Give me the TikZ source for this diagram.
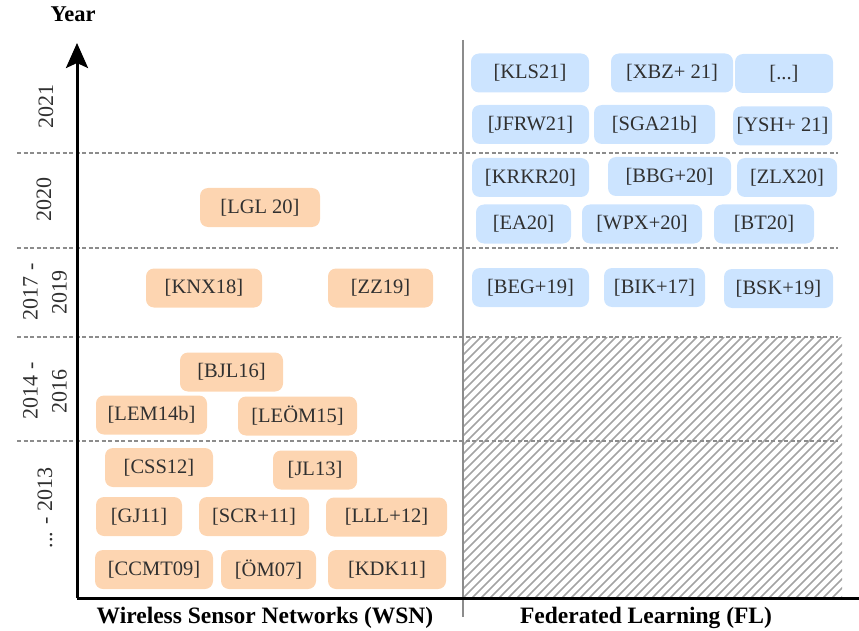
\documentclass[tikz,border=0pt]{standalone}
\usepackage{fontspec}
\setmainfont{Liberation Serif}
\usetikzlibrary{arrows.meta}
\definecolor{wsnfill}{HTML}{FDD5B1}
\definecolor{flfill}{HTML}{CCE4FF}
\definecolor{reftext}{HTML}{303030}
\definecolor{sepgray}{HTML}{8C8C8C}
\definecolor{hatchgray}{HTML}{A3A3A3}

\begin{document}
\begin{tikzpicture}[x=1pt,y=-1pt,
  refbox/.style={rounded corners=8pt, inner sep=0pt, minimum height=39pt,
    font=\fontsize{20.5}{24}\selectfont, text=reftext},
  wsn/.style={refbox, fill=wsnfill},
  fl/.style={refbox, fill=flfill},
  period/.style={dash pattern=on 4pt off 2.5pt, line width=1.8pt, sepgray},
  divider/.style={line width=2pt, sepgray},
  axis/.style={line width=3pt, black},
  hatch/.style={line width=1.7pt, hatchgray},
  yearlbl/.style={rotate=90, font=\fontsize{22}{29}\selectfont, align=center, text=reftext},
  axlbl/.style={font=\fontsize{23.5}{26}\selectfont\bfseries, text=black}]

% page frame
\useasboundingbox (0,0) rectangle (859,631);

% hatched area: no FL work before 2017
\begin{scope}
  \clip (463,337) rectangle (842,598);
  \foreach \i in {-270,-261,...,390}
    \draw[hatch] (463+\i,598) -- ++(261,-261);
\end{scope}

% period separators
\coordinate (p1l) at (17,153); \coordinate (p1r) at (838,153);
\coordinate (p2l) at (17,248); \coordinate (p2r) at (838,248);
\coordinate (p3l) at (17,337); \coordinate (p3r) at (838,337);
\coordinate (p4l) at (17,441); \coordinate (p4r) at (838,441);
\draw[period] (p1l) -- (p1r);
\draw[period] (p2l) -- (p2r);
\draw[period] (p3l) -- (p3r);
\draw[period] (p4l) -- (p4r);

% WSN / FL divider
\coordinate (divtop) at (463,40);
\coordinate (divbot) at (463,617);
\draw[divider] (divtop) -- (divbot);

% axes
\coordinate (origin) at (77,598);
\coordinate (ytip) at (77,43);
\coordinate (xend) at (859,598);
\draw[axis] (origin) -- (xend);
\draw[axis, -{Stealth[length=25pt,width=22pt,inset=5pt]}] (origin) -- (ytip);

% axis labels
\node[font=\fontsize{22.5}{24}\selectfont\bfseries] (yearhead) at (73,14) {Year};
\node[axlbl] (wsnlbl) at (265,618) {Wireless Sensor Networks (WSN)};
\node[axlbl] (fllbl) at (646,618) {Federated Learning (FL)};

% period labels
\node[yearlbl] (y2021) at (46,107) {2021};
\node[yearlbl] (y2020) at (44,200) {2020};
\node[yearlbl] (y2017) at (45,292) {2017 -\\2019};
\node[yearlbl] (y2014) at (45,391) {2014 -\\2016};
\node[yearlbl] (y2013) at (45,508) {... - 2013};

% FL references
\node[fl, minimum width=118pt] (kls21)  at (530,73)    {[KLS21]};
\node[fl, minimum width=122pt] (xbz21)  at (672,73)    {[XBZ+ 21]};
\node[fl, minimum width=98pt]  (more)   at (784,73.5)  {[...]};
\node[fl, minimum width=117pt] (jfrw21) at (530.5,124.5) {[JFRW21]};
\node[fl, minimum width=121pt] (sga21b) at (654.5,124.5) {[SGA21b]};
\node[fl, minimum width=99pt]  (ysh21)  at (782.5,126) {[YSH+ 21]};
\node[fl, minimum width=117pt] (krkr20) at (530.5,177.5) {[KRKR20]};
\node[fl, minimum width=123pt] (bbg20)  at (669.5,176.5) {[BBG+20]};
\node[fl, minimum width=100pt] (zlx20)  at (787,177.5) {[ZLX20]};
\node[fl, minimum width=95pt]  (ea20)   at (523.5,224) {[EA20]};
\node[fl, minimum width=120pt] (wpx20)  at (642,224)   {[WPX+20]};
\node[fl, minimum width=100pt] (bt20)   at (764,224)   {[BT20]};
\node[fl, minimum width=117pt] (beg19)  at (530.5,287.5) {[BEG+19]};
\node[fl, minimum width=101pt] (bik17)  at (654.5,287.5) {[BIK+17]};
\node[fl, minimum width=109pt] (bsk19)  at (778.5,288.5) {[BSK+19]};

% WSN references
\node[wsn, minimum width=120pt] (lgl20)  at (260,207.5) {[LGL 20]};
\node[wsn, minimum width=116pt] (knx18)  at (204,288)   {[KNX18]};
\node[wsn, minimum width=105pt] (zz19)   at (380.5,288) {[ZZ19]};
\node[wsn, minimum width=103pt] (bjl16)  at (231.5,372) {[BJL16]};
\node[wsn, minimum width=111pt] (lem14b) at (151.5,415) {[LEM14b]};
\node[wsn, minimum width=119pt] (leom15) at (297.5,416) {[LEÖM15]};
\node[wsn, minimum width=108pt] (css12)  at (159,467.5) {[CSS12]};
\node[wsn, minimum width=84pt]  (jl13)   at (315,470)   {[JL13]};
\node[wsn, minimum width=86pt]  (gj11)   at (139,516.5) {[GJ11]};
\node[wsn, minimum width=110pt] (scr11)  at (254,516.5) {[SCR+11]};
\node[wsn, minimum width=121pt] (lll12)  at (386.5,517) {[LLL+12]};
\node[wsn, minimum width=118pt] (ccmt09) at (154,569.5) {[CCMT09]};
\node[wsn, minimum width=95pt]  (om07)   at (268.5,569.5) {[ÖM07]};
\node[wsn, minimum width=118pt] (kdk11)  at (387,569.5) {[KDK11]};
\end{tikzpicture}
\end{document}
